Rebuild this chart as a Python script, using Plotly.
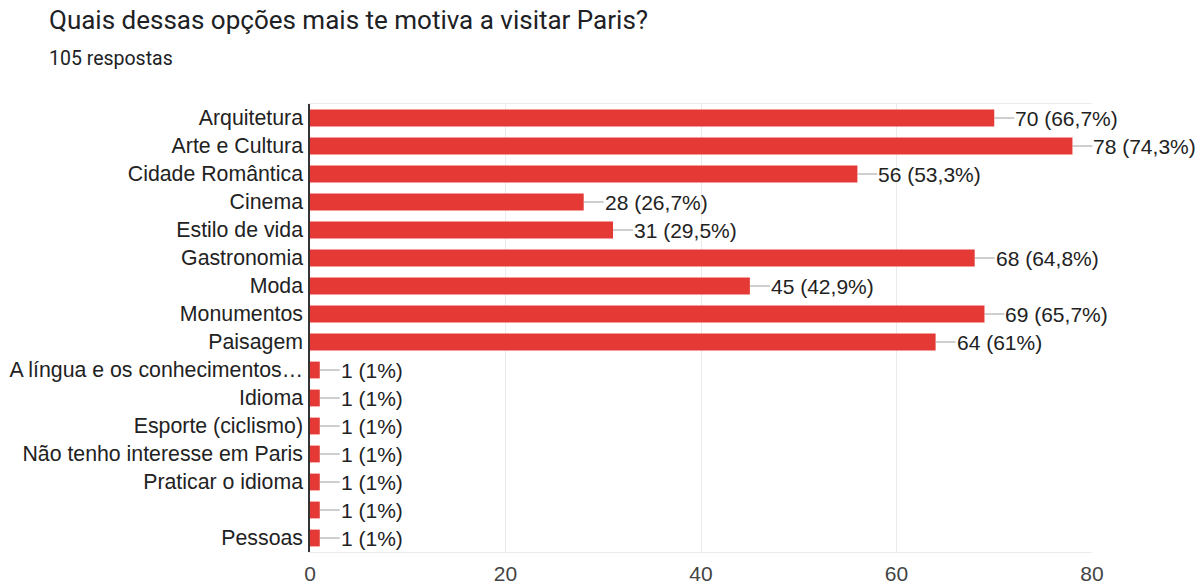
import plotly.graph_objects as go

# Survey answers: "Quais dessas opções mais te motiva a visitar Paris?"
categories = [
    "Arquitetura",
    "Arte e Cultura",
    "Cidade Romântica",
    "Cinema",
    "Estilo de vida",
    "Gastronomia",
    "Moda",
    "Monumentos",
    "Paisagem",
    "A língua e os conhecimentos…",
    "Idioma",
    "Esporte (ciclismo)",
    "Não tenho interesse em Paris",
    "Praticar o idioma",
    "",
    "Pessoas",
]
counts = [70, 78, 56, 28, 31, 68, 45, 69, 64, 1, 1, 1, 1, 1, 1, 1]
total_responses = 105
x_ticks = [0, 20, 40, 60, 80]

BAR_RED = "#e53935"
LABEL_FONT = "Liberation Sans, Arial, sans-serif"
TITLE_FONT = "Roboto, sans-serif"


def value_label(n):
    pct = round(100 * n / total_responses, 1)
    pct_txt = f"{pct:.1f}".rstrip("0").rstrip(".").replace(".", ",")
    return f"{n} ({pct_txt}%)"


positions = list(range(len(categories)))

fig = go.Figure(
    go.Bar(
        x=counts,
        y=positions,
        orientation="h",
        marker=dict(color=BAR_RED, line=dict(width=0)),
        width=0.6,
        hoverinfo="skip",
    )
)

# value labels with short leader lines from the end of each bar
annotations = []
for pos, n in zip(positions, counts):
    annotations.append(
        dict(
            x=n,
            y=pos,
            xref="x",
            yref="y",
            text=value_label(n),
            showarrow=True,
            arrowhead=0,
            arrowwidth=1,
            arrowcolor="#9e9e9e",
            ax=20,
            ay=0,
            xanchor="left",
            yanchor="middle",
            borderpad=0,
            font=dict(family=LABEL_FONT, size=21, color="#222222"),
        )
    )

# heading and response count
annotations.append(
    dict(
        text="Quais dessas opções mais te motiva a visitar Paris?",
        xref="paper",
        yref="paper",
        x=(47 - 310) / 782,
        y=(552 - 3) / 448,
        xanchor="left",
        yanchor="top",
        showarrow=False,
        font=dict(family=TITLE_FONT, size=26, color="#202124"),
    )
)
annotations.append(
    dict(
        text="105 respostas",
        xref="paper",
        yref="paper",
        x=(47 - 310) / 782,
        y=(552 - 45) / 448,
        xanchor="left",
        yanchor="top",
        showarrow=False,
        font=dict(family=TITLE_FONT, size=19.5, color="#202124"),
    )
)

fig.update_layout(
    width=1198,
    height=585,
    margin=dict(l=310, r=106, t=104, b=33),
    paper_bgcolor="white",
    plot_bgcolor="white",
    showlegend=False,
    annotations=annotations,
    bargap=0.4,
)

fig.update_xaxes(
    range=[0, 80],
    tickvals=x_ticks,
    ticktext=[str(v) for v in x_ticks],
    showgrid=True,
    gridcolor="#ebebeb",
    gridwidth=1,
    zeroline=False,
    showline=True,
    linecolor="#ebebeb",
    linewidth=1,
    mirror=True,
    ticks="",
    ticklabelstandoff=3,
    automargin=False,
    tickfont=dict(family=LABEL_FONT, size=21, color="#444444"),
)

fig.update_yaxes(
    range=[len(categories) - 0.5, -0.5],
    tickvals=positions,
    ticktext=categories,
    showgrid=False,
    zeroline=False,
    showline=True,
    linecolor="#333333",
    linewidth=1.5,
    ticks="",
    ticklabelstandoff=1,
    automargin=False,
    tickfont=dict(family=LABEL_FONT, size=21.3, color="#222222"),
)

fig.write_html("out.html")
